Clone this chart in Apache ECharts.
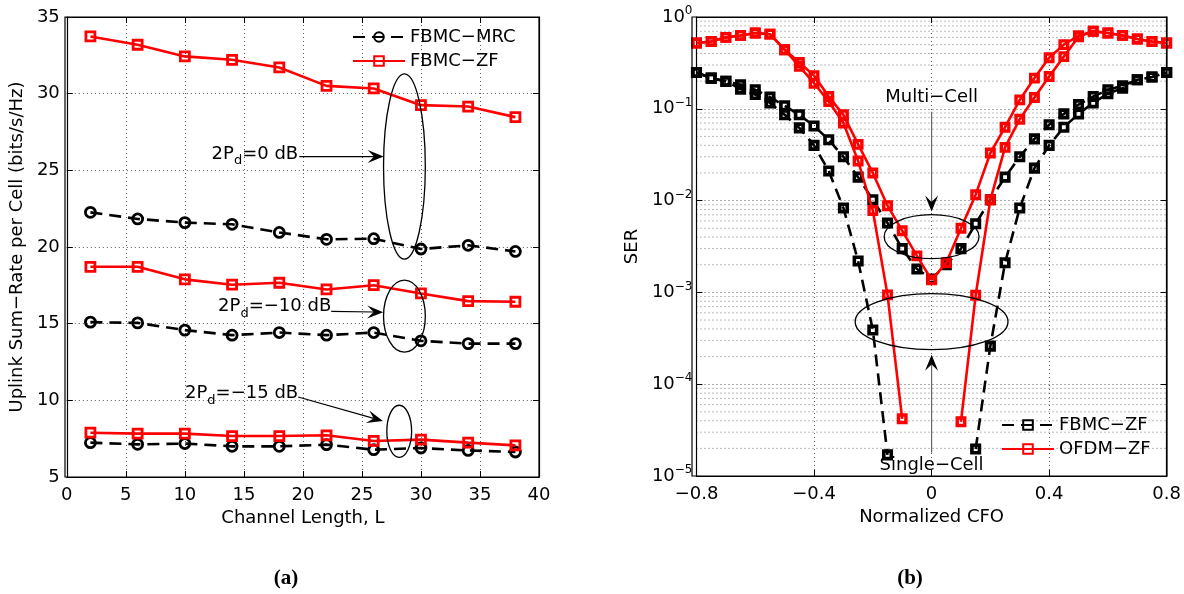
<!DOCTYPE html>
<html><head><meta charset="utf-8">
<script src="https://cdn.jsdelivr.net/npm/echarts@6/dist/echarts.min.js"></script>
<style>
html,body{margin:0;padding:0;background:#fff;}
#wrap{position:relative;width:1184px;height:594px;overflow:hidden;}
#a{position:absolute;left:0;top:0;width:615px;height:594px;}
#b{position:absolute;left:615px;top:0;width:569px;height:594px;}
</style>
</head><body><div id="wrap"><div id="a"></div><div id="b"></div></div>
<script>
// ---------- data: panel (a) ----------
const channelLength = [2, 6, 10, 14, 18, 22, 26, 30, 34, 38];
const mrc0dB  = [22.26, 21.83, 21.59, 21.48, 20.95, 20.50, 20.54, 19.87, 20.11, 19.71];
const zf0dB   = [33.73, 33.19, 32.43, 32.21, 31.71, 30.51, 30.34, 29.25, 29.16, 28.47];
const mrc10dB = [15.10, 15.05, 14.58, 14.25, 14.42, 14.25, 14.42, 13.88, 13.70, 13.70];
const zf10dB  = [18.71, 18.71, 17.89, 17.54, 17.67, 17.23, 17.51, 16.97, 16.47, 16.43];
const mrc15dB = [7.24, 7.13, 7.18, 7.00, 7.00, 7.11, 6.78, 6.89, 6.73, 6.63];
const zf15dB  = [7.89, 7.83, 7.83, 7.67, 7.67, 7.72, 7.35, 7.44, 7.24, 7.06];

// ---------- data: panel (b) ----------
const cfo = [-0.8, -0.75, -0.7, -0.65, -0.6, -0.55, -0.5, -0.45, -0.4, -0.35, -0.3, -0.25, -0.2, -0.15, -0.1, -0.05, 0,
             0.05, 0.1, 0.15, 0.2, 0.25, 0.3, 0.35, 0.4, 0.45, 0.5, 0.55, 0.6, 0.65, 0.7, 0.75, 0.8];
const fbmcMulti = [0.249, 0.216, 0.199, 0.183, 0.161, 0.134, 0.108, 0.086, 0.065, 0.046, 0.030, 0.018, 0.0102, 0.0057, 0.0030, 0.0018, 0.0014,
                   0.0020, 0.0030, 0.0056, 0.0102, 0.018, 0.030, 0.047, 0.067, 0.088, 0.111, 0.136, 0.161, 0.178, 0.207, 0.222, 0.249];
const fbmcSingle = [0.249, 0.216, 0.199, 0.164, 0.143, 0.116, 0.086, 0.062, 0.040, 0.021, 0.0083, 0.0022, 0.00039, 0.000017,
                    '-', '-', '-', '-', '-',
                    0.0000197, 0.00026, 0.0021, 0.0083, 0.0226, 0.040, 0.063, 0.088, 0.116, 0.146, 0.168, 0.207, 0.222, 0.249];
const ofdmMulti = [0.52, 0.54, 0.60, 0.63, 0.67, 0.65, 0.44, 0.32, 0.23, 0.136, 0.086, 0.041, 0.020, 0.0088, 0.0047, 0.0025, 0.00137,
                   0.0021, 0.0050, 0.0116, 0.033, 0.063, 0.125, 0.216, 0.36, 0.50, 0.625, 0.70, 0.67, 0.63, 0.575, 0.54, 0.52];
const ofdmSingle = [0.52, 0.54, 0.60, 0.63, 0.67, 0.65, 0.44, 0.29, 0.19, 0.12, 0.070, 0.027, 0.0078, 0.00094, 0.000042,
                    '-', '-', '-',
                    0.000039, 0.00093, 0.0102, 0.038, 0.077, 0.133, 0.225, 0.37, 0.61, 0.70, 0.67, 0.63, 0.575, 0.54, 0.52];
const minorMantissa = [2, 3, 4, 5, 6, 7, 8, 9];
const decades = [-5, -4, -3, -2, -1];

// ---------- annotation anchors (data units) ----------
const leftEllipses = [
  {cx: 28.6, cy: 25.25, rx: 1.77, ry: 6.04},
  {cx: 28.6, cy: 15.49, rx: 1.77, ry: 2.35},
  {cx: 28.16, cy: 7.98, rx: 1.05, ry: 1.70}
];
const leftArrows = [
  {from: [19.7, 25.9], to: [26.84, 25.9]},
  {from: [22.4, 15.8], to: [26.8, 15.75]},
  {from: [19.6, 10.22], to: [26.78, 8.65]}
];
const leftLabels = [
  {x: 19.6, y: 26.07, val: '0'},
  {x: 22.4, y: 16.1, val: '−10'},
  {x: 19.6, y: 10.44, val: '−15'}
];

const FONT = 'DejaVu Sans';
const FS = 18;
const gridLine = {show: true, lineStyle: {color: '#555', width: 1, type: [1, 3]}};
const axLine = {show: true, onZero: false, lineStyle: {color: '#000', width: 1.2}};
const tickIn = {show: true, inside: true, length: 6, lineStyle: {color: '#000', width: 1}};

function pair(xs, ys) { return xs.map((x, i) => [x, ys[i]]); }

// ================= chart (a) =================
const ca = echarts.init(document.getElementById('a'), null, {renderer: 'canvas'});
const mrcStyle = {
  type: 'line', symbol: 'circle', symbolSize: 10, showAllSymbol: true,
  lineStyle: {color: '#000', width: 2.6, type: [12, 7]},
  itemStyle: {color: 'rgba(255,255,255,0)', borderColor: '#000', borderWidth: 2.8},
  emphasis: {disabled: true}, z: 3
};
const zfStyle = {
  type: 'line', symbol: 'rect', symbolSize: 9, showAllSymbol: true,
  lineStyle: {color: '#ff0000', width: 2.6},
  itemStyle: {color: 'rgba(255,255,255,0)', borderColor: '#ff0000', borderWidth: 2.8},
  emphasis: {disabled: true}, z: 4
};
ca.setOption({
  animation: false,
  backgroundColor: 'transparent',
  textStyle: {fontFamily: FONT},
  grid: {left: 65, top: 17, width: 474, height: 460, show: false},
  legend: {
    data: ['FBMC−MRC', 'FBMC−ZF'], orient: 'vertical', left: 352, top: 28,
    itemWidth: 52, itemHeight: 12, itemGap: 6, padding: 0,
    textStyle: {fontFamily: FONT, fontSize: FS, color: '#000'}, selectedMode: false
  },
  xAxis: [
    {type: 'value', min: 0, max: 40, interval: 5, position: 'bottom',
     axisLine: axLine, axisTick: tickIn, splitLine: gridLine,
     axisLabel: {color: '#000', fontSize: FS, fontFamily: FONT, margin: 9},
     name: 'Channel Length, L', nameLocation: 'middle', nameGap: 31,
     nameTextStyle: {color: '#000', fontSize: FS, fontFamily: FONT}},
    {type: 'value', min: 0, max: 40, interval: 5, position: 'top',
     axisLine: axLine, axisTick: tickIn, splitLine: {show: false}, axisLabel: {show: false}}
  ],
  yAxis: [
    {type: 'value', min: 5, max: 35, interval: 5, position: 'left',
     axisLine: axLine, axisTick: tickIn, splitLine: gridLine,
     axisLabel: {color: '#000', fontSize: FS, fontFamily: FONT, margin: 7},
     name: 'Uplink Sum−Rate per Cell (bits/s/Hz)', nameLocation: 'middle', nameGap: 36,
     nameTextStyle: {color: '#000', fontSize: FS, fontFamily: FONT}},
    {type: 'value', min: 5, max: 35, interval: 5, position: 'right',
     axisLine: axLine, axisTick: tickIn, splitLine: {show: false}, axisLabel: {show: false}}
  ],
  series: [
    Object.assign({name: 'FBMC−MRC', data: pair(channelLength, mrc0dB)}, mrcStyle),
    Object.assign({name: 'FBMC−ZF', data: pair(channelLength, zf0dB)}, zfStyle),
    Object.assign({name: 'FBMC−MRC', data: pair(channelLength, mrc10dB)}, mrcStyle),
    Object.assign({name: 'FBMC−ZF', data: pair(channelLength, zf10dB)}, zfStyle),
    Object.assign({name: 'FBMC−MRC', data: pair(channelLength, mrc15dB)}, mrcStyle),
    Object.assign({name: 'FBMC−ZF', data: pair(channelLength, zf15dB)}, zfStyle)
  ]
});

function arrow(from, tip, color, width, len, half) {
  const dx = tip[0] - from[0], dy = tip[1] - from[1];
  const d = Math.hypot(dx, dy), ux = dx / d, uy = dy / d, px = -uy, py = ux;
  const bx = tip[0] - ux * len, by = tip[1] - uy * len;
  const nx = tip[0] - ux * len * 0.6, ny = tip[1] - uy * len * 0.6;
  return [
    {type: 'line', shape: {x1: from[0], y1: from[1], x2: nx, y2: ny},
     style: {stroke: color, lineWidth: width}, z: 100, silent: true},
    {type: 'polygon', shape: {points: [tip, [bx + px * half, by + py * half], [nx, ny], [bx - px * half, by - py * half]]},
     style: {fill: '#000'}, z: 100, silent: true}
  ];
}

(function () {
  const P = (x, y) => ca.convertToPixel({gridIndex: 0}, [x, y]);
  const g = [];
  leftEllipses.forEach(e => {
    const c = P(e.cx, e.cy), r = P(e.cx + e.rx, e.cy + e.ry);
    g.push({type: 'ellipse', shape: {cx: c[0], cy: c[1], rx: r[0] - c[0], ry: c[1] - r[1]},
            style: {fill: null, stroke: '#000', lineWidth: 1.3}, z: 100, silent: true});
  });
  leftArrows.forEach(a => { g.push(...arrow(P(a.from[0], a.from[1]), P(a.to[0], a.to[1]), '#000', 1.2, 16, 6.5)); });
  leftLabels.forEach(l => {
    const p = P(l.x, l.y);
    g.push({type: 'text', x: p[0], y: p[1], z: 101, silent: true,
      style: {text: '{n|2P}{d|d}{n|=' + l.val + ' dB}', align: 'right', verticalAlign: 'middle',
        rich: {n: {fontSize: FS, fontFamily: FONT, fill: '#000', lineHeight: 20},
               d: {fontSize: 13, fontFamily: FONT, fill: '#000', padding: [14, 0, 0, 0], lineHeight: 20}}}});
  });
  g.push({type: 'text', x: 286, y: 579, z: 101, silent: true,
    style: {text: '(a)', align: 'center', verticalAlign: 'middle', fontSize: 21, fontWeight: 'bold',
            fontFamily: 'Liberation Serif', fill: '#000'}});
  g.push({type: 'rect', shape: {x: 65, y: 17, width: 474, height: 460},
          style: {fill: null, stroke: '#000', lineWidth: 1.2}, z: 99, silent: true});
  ca.setOption({graphic: g});
})();

// ================= chart (b) =================
const cb = echarts.init(document.getElementById('b'), null, {renderer: 'canvas'});
const supMap = v => {
  const e = Math.round(Math.log10(v));
  return '{b|10}{s|' + (e < 0 ? '−' + (-e) : String(e)) + '}';
};
const blackSq = {
  type: 'line', symbol: 'rect', symbolSize: 7.5, showAllSymbol: true,
  lineStyle: {color: '#000', width: 2.6, type: [12, 7]},
  itemStyle: {color: 'rgba(255,255,255,0)', borderColor: '#000', borderWidth: 3.6},
  emphasis: {disabled: true}, z: 3
};
const redSq = {
  type: 'line', symbol: 'rect', symbolSize: 7.5, showAllSymbol: true,
  lineStyle: {color: '#ff0000', width: 2.6},
  itemStyle: {color: 'rgba(255,255,255,0)', borderColor: '#ff0000', borderWidth: 3.4},
  emphasis: {disabled: true}, z: 4
};
cb.setOption({
  animation: false,
  backgroundColor: 'transparent',
  textStyle: {fontFamily: FONT},
  grid: {left: 77, top: 17, width: 475, height: 459, show: false},
  legend: {
    data: ['FBMC−ZF', 'OFDM−ZF'], orient: 'vertical', left: 386, top: 416,
    itemWidth: 52, itemHeight: 12, itemGap: 6, padding: 0,
    textStyle: {fontFamily: FONT, fontSize: FS, color: '#000'}, selectedMode: false
  },
  xAxis: [
    {type: 'value', min: -0.8, max: 0.8, interval: 0.4, position: 'bottom',
     axisLine: axLine, axisTick: tickIn, splitLine: gridLine,
     axisLabel: {color: '#000', fontSize: FS, fontFamily: FONT, margin: 9,
       formatter: v => Math.abs(v) < 1e-9 ? '0' : (v < 0 ? '−' : '') + Math.abs(v).toFixed(1)},
     name: 'Normalized CFO', nameLocation: 'middle', nameGap: 31,
     nameTextStyle: {color: '#000', fontSize: FS, fontFamily: FONT}},
    {type: 'value', min: -0.8, max: 0.8, interval: 0.4, position: 'top',
     axisLine: axLine, axisTick: tickIn, splitLine: {show: false}, axisLabel: {show: false}}
  ],
  yAxis: [
    {type: 'log', logBase: 10, min: 1e-5, max: 1, position: 'left',
     axisLine: axLine, axisTick: tickIn, splitLine: gridLine,
     axisLabel: {color: '#000', margin: 4, formatter: supMap,
       rich: {b: {fontSize: FS, fontFamily: FONT, color: '#000'},
              s: {fontSize: 12, fontFamily: FONT, color: '#000', padding: [0, 0, 12, 0]}}},
     name: 'SER', nameLocation: 'middle', nameGap: 48,
     nameTextStyle: {color: '#000', fontSize: FS, fontFamily: FONT}},
    {type: 'log', logBase: 10, min: 1e-5, max: 1, position: 'right',
     axisLine: axLine, axisTick: tickIn, splitLine: {show: false}, axisLabel: {show: false}}
  ],
  series: [
    Object.assign({name: 'FBMC−ZF', data: pair(cfo, fbmcMulti)}, blackSq),
    Object.assign({name: 'FBMC−ZF', data: pair(cfo, fbmcSingle)}, blackSq),
    Object.assign({name: 'OFDM−ZF', data: pair(cfo, ofdmMulti)}, redSq),
    Object.assign({name: 'OFDM−ZF', data: pair(cfo, ofdmSingle)}, redSq)
  ]
});

(function () {
  const P = (x, y) => cb.convertToPixel({gridIndex: 0}, [x, y]);
  const g = [];
  // minor log grid lines, placed through the axis scale
  decades.forEach(d => minorMantissa.forEach(m => {
    const v = m * Math.pow(10, d);
    const a = P(-0.8, v), b = P(0.8, v);
    g.push({type: 'line', shape: {x1: a[0], y1: a[1], x2: b[0], y2: b[1]},
            style: {stroke: '#777', lineWidth: 1, lineDash: [1, 3]}, z: 0, silent: true});
  }));
  const ell = (cx, cy, rx, ryDec) => {
    const c = P(cx, cy), r = P(cx + rx, cy * Math.pow(10, ryDec));
    g.push({type: 'ellipse', shape: {cx: c[0], cy: c[1], rx: r[0] - c[0], ry: c[1] - r[1]},
            style: {fill: null, stroke: '#000', lineWidth: 1.3}, z: 100, silent: true});
  };
  ell(0, 0.00405, 0.1615, 0.24);
  ell(0, 0.00048, 0.26, 0.305);
  g.push(...arrow(P(0, 0.093), P(0, 0.0076), '#666', 1.2, 16, 6.5));
  g.push(...arrow(P(0, 0.000018), P(0, 0.000209), '#666', 1.2, 16, 6.5));
  const t1 = P(0, 0.132), t2 = P(0, 0.000013);
  g.push({type: 'text', x: t1[0], y: t1[1], z: 101, silent: true,
    style: {text: 'Multi−Cell', align: 'center', verticalAlign: 'middle', fontSize: FS, fontFamily: FONT, fill: '#000'}});
  g.push({type: 'text', x: t2[0], y: t2[1], z: 101, silent: true,
    style: {text: 'Single−Cell', align: 'center', verticalAlign: 'middle', fontSize: FS, fontFamily: FONT, fill: '#000'}});
  g.push({type: 'text', x: 910 - 615, y: 579, z: 101, silent: true,
    style: {text: '(b)', align: 'center', verticalAlign: 'middle', fontSize: 21, fontWeight: 'bold',
            fontFamily: 'Liberation Serif', fill: '#000'}});
  g.push({type: 'rect', shape: {x: 77, y: 17, width: 475, height: 459},
          style: {fill: null, stroke: '#000', lineWidth: 1.2}, z: 99, silent: true});
  cb.setOption({graphic: g});
})();
</script>
</body></html>
